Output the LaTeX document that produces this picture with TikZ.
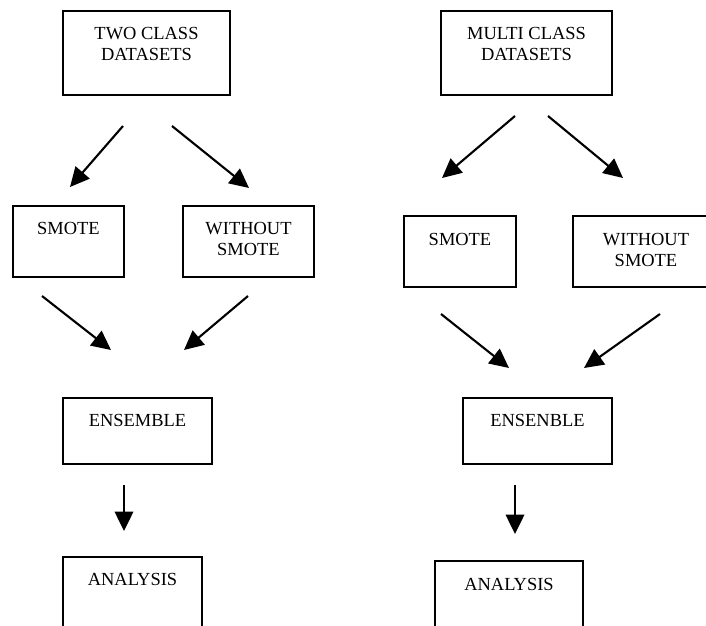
\documentclass[tikz,border=0pt]{standalone}
\usepackage{fontspec}
\setmainfont{Liberation Serif}
\usetikzlibrary{arrows.meta,fit}

\begin{document}
\begin{tikzpicture}[x=0.02cm, y=-0.02cm, line join=miter,
  stage/.style={draw, line width=0.8pt, inner sep=0pt},
  caption/.style={anchor=north, align=center, inner sep=0pt, font=\fontsize{10.5}{12}\selectfont},
  flow/.style={line width=1.2pt, -{Triangle[length=11pt, width=10.5pt]}}]
\useasboundingbox (0,0) rectangle (706,625);
\clip (0,0) rectangle (706,625);

% Two class branch: boxes
\node[stage, fit={(63,11) (230,95)}] (two) {};
\node[stage, fit={(13,206) (124,277)}] (smoteL) {};
\node[stage, fit={(183,206) (314,277)}] (plainL) {};
\node[stage, fit={(63,398) (212,464)}] (ensL) {};
\node[stage, fit={(63,557) (202,640)}] (anaL) {};

% Two class branch: texts
\node[caption] (twotext) at (146.5,27) {TWO CLASS\\DATASETS};
\node[caption] (smoteLtext) at (68.5,222) {SMOTE};
\node[caption] (plainLtext) at (248.5,222) {WITHOUT\\SMOTE};
\node[caption] (ensLtext) at (137.5,414) {ENSEMBLE};
\node[caption] (anaLtext) at (132.5,573) {ANALYSIS};

% Multi class branch: boxes
\node[stage, fit={(441,11) (612,95)}] (multi) {};
\node[stage, fit={(404,216) (516,287)}] (smoteR) {};
\node[stage, fit={(573,216) (719,287)}] (plainR) {};
\node[stage, fit={(463,398) (612,464)}] (ensR) {};
\node[stage, fit={(435,561) (583,640)}] (anaR) {};

% Multi class branch: texts
\node[caption] (multitext) at (526.5,27) {MULTI CLASS\\DATASETS};
\node[caption] (smoteRtext) at (460,233) {SMOTE};
\node[caption] (plainRtext) at (646,233) {WITHOUT\\SMOTE};
\node[caption] (ensRtext) at (537.5,414) {ENSENBLE};
\node[caption] (anaRtext) at (509,578) {ANALYSIS};

% Arrow ends (they float between the boxes)
\coordinate (l1s) at (123,126); \coordinate (l1e) at (70,187);
\coordinate (l2s) at (172,126); \coordinate (l2e) at (249,188);
\coordinate (l3s) at (42,296);  \coordinate (l3e) at (111,350);
\coordinate (l4s) at (248,296); \coordinate (l4e) at (184,350);
\coordinate (l5s) at (124,485); \coordinate (l5e) at (124,531);
\coordinate (r1s) at (515,116); \coordinate (r1e) at (442,178);
\coordinate (r2s) at (548,116); \coordinate (r2e) at (623,178);
\coordinate (r3s) at (441,314); \coordinate (r3e) at (509,368);
\coordinate (r4s) at (660,314); \coordinate (r4e) at (584,368);
\coordinate (r5s) at (515,485); \coordinate (r5e) at (515,534);

% Arrows
\draw[flow] (l1s) -- (l1e);
\draw[flow] (l2s) -- (l2e);
\draw[flow] (l3s) -- (l3e);
\draw[flow] (l4s) -- (l4e);
\draw[flow] (l5s) -- (l5e);
\draw[flow] (r1s) -- (r1e);
\draw[flow] (r2s) -- (r2e);
\draw[flow] (r3s) -- (r3e);
\draw[flow] (r4s) -- (r4e);
\draw[flow] (r5s) -- (r5e);

\end{tikzpicture}
\end{document}
